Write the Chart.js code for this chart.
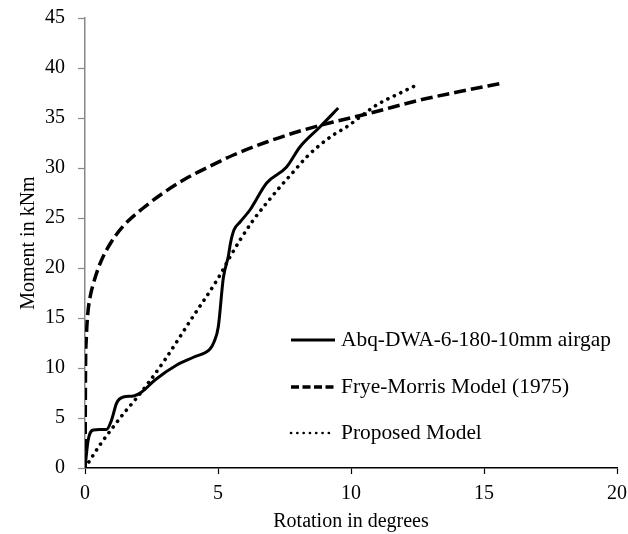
<!DOCTYPE html>
<html>
<head>
<meta charset="utf-8">
<script src="https://cdn.jsdelivr.net/npm/chart.js@4.4.0/dist/chart.umd.min.js"></script>
<style>
  html, body { margin: 0; padding: 0; background: #fff; }
  #wrap { width: 628px; height: 534px; }
</style>
</head>
<body>
<div id="wrap"><canvas id="chart_moment" width="628" height="534"></canvas></div>
<script>
// Abaqus curve (rotation deg, moment kNm)
var abqRot = [0, 0.12, 0.31, 0.55, 0.81, 1.0, 1.19, 1.44, 1.82, 2.13, 2.63, 3.45, 4.1, 4.7, 4.85, 5.01, 5.2, 5.39, 5.47, 5.6, 5.83, 6.2, 6.83, 7.58, 8.08, 8.83, 9.52];
var abqMom = [0, 2.8, 3.8, 3.85, 3.85, 4.8, 6.5, 7.1, 7.2, 7.6, 8.8, 10.3, 11.1, 11.9, 12.6, 14.1, 19.0, 21.2, 22.5, 23.8, 24.6, 25.8, 28.5, 30.1, 32.1, 34.1, 36.0];

// Frye-Morris model
var fmRot = [0, 0.01, 0.02, 0.05, 0.1, 0.2, 0.31, 0.56, 0.94, 1.44, 2.19, 2.94, 3.7, 4.64, 5.58, 6.83, 8.08, 9.33, 10.59, 12.6, 14.0, 15.7];
var fmMom = [0, 5, 10, 13, 15.3, 17.2, 18.4, 20.4, 22.4, 24.2, 26.0, 27.5, 28.8, 30.1, 31.3, 32.6, 33.7, 34.6, 35.4, 36.8, 37.6, 38.5];

// Proposed model
var pmRot = [0, 0.56, 1.06, 1.56, 1.88, 2.38, 3.0, 4.0, 5.01, 5.45, 5.83, 6.33, 6.83, 7.33, 7.83, 8.33, 8.83, 9.33, 9.83, 10.34, 10.96, 11.85, 12.47];
var pmMom = [0, 2.3, 4.1, 5.8, 6.8, 8.5, 10.8, 14.9, 19.0, 21.1, 22.8, 24.8, 26.5, 28.1, 29.6, 31.1, 32.3, 33.3, 34.1, 35.1, 36.3, 37.5, 38.3];

var seriesNames = ['Abq-DWA-6-180-10mm airgap', 'Frye-Morris Model (1975)', 'Proposed Model'];
var xTicks = [0, 5, 10, 15, 20];
var yTicks = [0, 5, 10, 15, 20, 25, 30, 35, 40, 45];

var serif = "'Liberation Serif', 'Times New Roman', serif";

function toPoints(xs, ys) {
  let pts = [];
  for (let i = 0; i < xs.length; i++) {
    pts.push({ x: xs[i], y: ys[i] });
  }
  return pts;
}

// legend drawn inside the plot area, like the original figure
var insideLegend = {
  id: 'insideLegend',
  afterDraw: function(chart) {
    var ctx = chart.ctx;
    var area = chart.chartArea;
    var x0 = area.left + 206, x1 = area.left + 250;
    var rows = [area.top + 322, area.top + 369, area.top + 415];
    var styles = [
      { w: 3, dash: [], cap: 'butt' },
      { w: 3.5, dash: [8, 3.5], cap: 'butt' },
      { w: 2.6, dash: [0.1, 6.2], cap: 'round' }
    ];
    ctx.save();
    for (let i = 0; i < seriesNames.length; i++) {
      ctx.beginPath();
      ctx.strokeStyle = '#000';
      ctx.lineWidth = styles[i].w;
      ctx.setLineDash(styles[i].dash);
      ctx.lineCap = styles[i].cap;
      ctx.moveTo(x0, rows[i]);
      ctx.lineTo(x1, rows[i]);
      ctx.stroke();
      ctx.setLineDash([]);
      ctx.fillStyle = '#000';
      ctx.font = '21.4px ' + serif;
      ctx.textBaseline = 'middle';
      ctx.textAlign = 'left';
      ctx.fillText(seriesNames[i], x1 + 6, rows[i]);
    }
    ctx.restore();
  }
};

var momentChart = document.getElementById('chart_moment');

new Chart(momentChart, {
  type: 'scatter',
  data: {
    datasets: [{
      label: seriesNames[0],
      data: toPoints(abqRot, abqMom),
      showLine: true,
      borderColor: '#000',
      borderWidth: 3,
      pointRadius: 0,
      cubicInterpolationMode: 'monotone'
    }, {
      label: seriesNames[1],
      data: toPoints(fmRot, fmMom),
      showLine: true,
      borderColor: '#000',
      borderWidth: 3.5,
      borderDash: [12, 5],
      pointRadius: 0,
      cubicInterpolationMode: 'monotone'
    }, {
      label: seriesNames[2],
      data: toPoints(pmRot, pmMom),
      showLine: true,
      borderColor: '#000',
      borderWidth: 3.6,
      borderDash: [0.1, 7],
      borderCapStyle: 'round',
      pointRadius: 0,
      cubicInterpolationMode: 'monotone'
    }]
  },
  options: {
    responsive: false,
    animation: false,
    layout: {
      padding: { top: 18, right: 11, left: 0, bottom: 0 }
    },
    plugins: {
      legend: { display: false },
      tooltip: { enabled: false }
    },
    scales: {
      x: {
        type: 'linear',
        min: 0,
        max: 20,
        afterBuildTicks: function(scale) {
          scale.ticks = xTicks.map(function(v) { return { value: v }; });
        },
        afterFit: function(scale) {
          scale.height = 66;
          scale.paddingLeft = 0;
          scale.paddingRight = 0;
        },
        ticks: {
          color: '#000',
          padding: 8,
          maxRotation: 0,
          font: { family: serif, size: 20 }
        },
        grid: {
          drawOnChartArea: false,
          tickLength: 6,
          tickColor: '#000',
          tickWidth: 1.2
        },
        border: { color: '#000', width: 1.5 },
        title: {
          display: true,
          text: 'Rotation in degrees',
          color: '#000',
          padding: { top: 0, bottom: 0 },
          font: { family: serif, size: 20 }
        }
      },
      y: {
        type: 'linear',
        min: 0,
        max: 45,
        afterBuildTicks: function(scale) {
          scale.ticks = yTicks.map(function(v) { return { value: v }; });
        },
        afterFit: function(scale) {
          scale.width = 85;
          scale.paddingTop = 0;
          scale.paddingBottom = 0;
        },
        ticks: {
          color: '#000',
          padding: 13,
          font: { family: serif, size: 20 }
        },
        grid: {
          drawOnChartArea: false,
          tickLength: 7,
          tickColor: '#888',
          tickWidth: 1.2
        },
        border: { color: '#888', width: 1.5 },
        title: {
          display: true,
          text: 'Moment in kNm',
          color: '#000',
          padding: { top: 17, bottom: 0 },
          font: { family: serif, size: 20 }
        }
      }
    }
  },
  plugins: [insideLegend]
});
</script>
</body>
</html>
